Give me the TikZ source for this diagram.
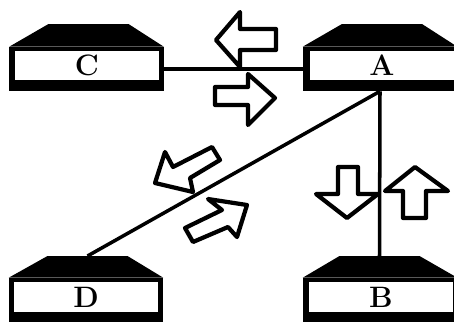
\documentclass[tikz,border=0pt]{standalone}
\tikzset{
    devbase/.style={rectangle,fill=black,inner sep=0pt,minimum width=3.85cm,minimum height=1.1cm},
    devlabel/.style={rectangle,fill=white,inner sep=0pt,minimum width=3.6cm,minimum height=0.74cm,font=\fontsize{21}{21}\selectfont\bfseries},
    link/.style={line width=2.5pt},
    flow/.style={draw,line width=3pt,fill=white,line join=round}
}
\begin{document}
\begin{tikzpicture}[x=0.025cm,y=-0.025cm]
    \useasboundingbox (0,0) rectangle (454,322);
    % Bases
    \node[devbase] (c) at (86.5,69) {};
    \node[devbase] (a) at (380,69) {};
    \node[devbase] (d) at (86,300) {};
    \node[devbase] (b) at (380,300) {};
    % Roofs
    \coordinate (ctop) at (88.5,24);
    \coordinate (atop) at (382,24);
    \coordinate (dtop) at (87.5,256);
    \coordinate (btop) at (379.5,256);
    \fill (c.north west) -- ([xshift=-1cm]ctop) -- ([xshift=1cm]ctop) -- (c.north east) -- cycle;
    \fill (a.north west) -- ([xshift=-1cm]atop) -- ([xshift=1cm]atop) -- (a.north east) -- cycle;
    \fill (d.north west) -- ([xshift=-1cm]dtop) -- ([xshift=1cm]dtop) -- (d.north east) -- cycle;
    \fill (b.north west) -- ([xshift=-1cm]btop) -- ([xshift=1cm]btop) -- (b.north east) -- cycle;
    % Labels
    \node[devlabel] (clabel) at (87,65.5) {C};
    \node[devlabel] (alabel) at (382,65.5) {A};
    \node[devlabel] (dlabel) at (86,297) {D};
    \node[devlabel] (blabel) at (381,297) {B};
    % Links
    \draw[link] (c) -- (a);
    \draw[link] (a.south) -- (btop);
    \draw[link] (a.south) -- (dtop);
    % Arrows between C and A
    \draw[flow] (276,29) -- (240,29) -- (240,12) -- (216,40) -- (240,67) -- (240,50) -- (276,50) -- cycle;
    \draw[flow] (215,87) -- (248,87) -- (248,74) -- (275,98) -- (248,125) -- (248,105) -- (215,105) -- cycle;
    % Arrows between A and D
    \draw[flow] (212,147) -- (173,167) -- (165,152) -- (155,183) -- (193,192) -- (190,178) -- (220,160) -- cycle;
    \draw[flow] (185,228) -- (222,210) -- (208,199) -- (247,205) -- (237,237) -- (228,227) -- (193,242) -- cycle;
    % Arrows between A and B
    \draw[flow] (338,167) -- (358,167) -- (358,194) -- (378,194) -- (347,218) -- (316,194) -- (338,194) -- cycle;
    \draw[flow] (403,218) -- (426,218) -- (426,191) -- (448,191) -- (415,167) -- (385,191) -- (403,191) -- cycle;
\end{tikzpicture}
\end{document}
